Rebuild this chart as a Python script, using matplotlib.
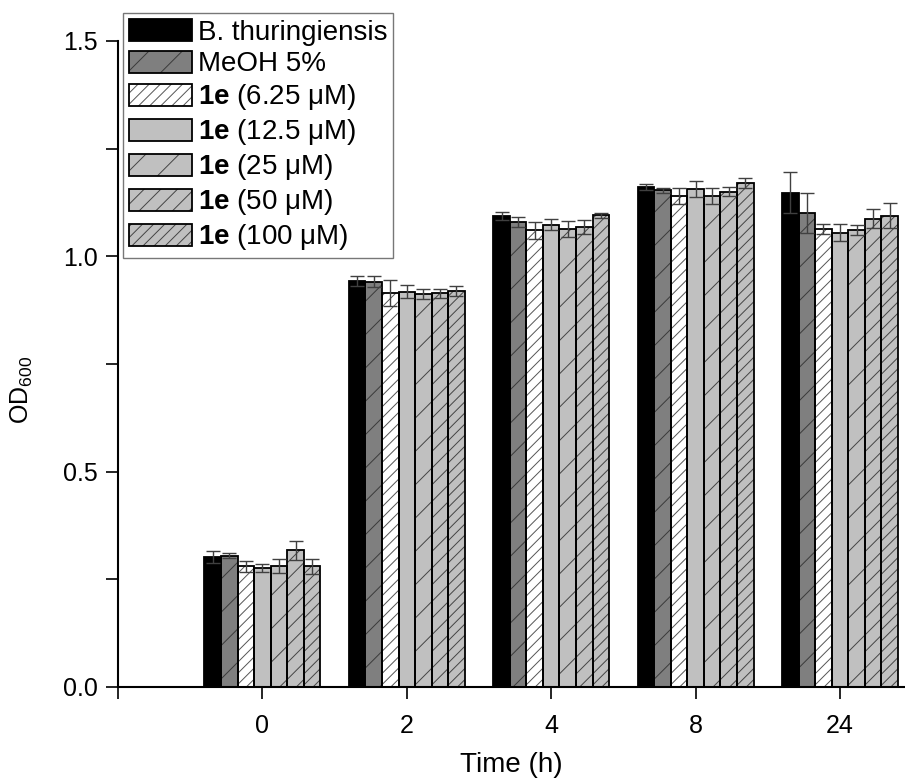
import numpy as np
import matplotlib
matplotlib.use('Agg')
import matplotlib.pyplot as plt
from matplotlib.patches import Patch
from matplotlib.legend_handler import HandlerTuple
from matplotlib.ticker import MultipleLocator

plt.rcParams['font.family'] = ['Liberation Sans', 'DejaVu Sans']
plt.rcParams['mathtext.fontset'] = 'custom'
plt.rcParams['mathtext.rm'] = 'Liberation Sans'
plt.rcParams['mathtext.bf'] = 'Liberation Sans:bold'
plt.rcParams['hatch.linewidth'] = 0.7

times = ['0', '2', '4', '8', '24']
labels = ['B. thuringiensis', 'MeOH 5%',
          r'$\mathbf{1e}$ (6.25 μM)', r'$\mathbf{1e}$ (12.5 μM)',
          r'$\mathbf{1e}$ (25 μM)', r'$\mathbf{1e}$ (50 μM)',
          r'$\mathbf{1e}$ (100 μM)']

bt = [0.301, 0.943, 1.094, 1.161, 1.148]
meoh = [0.305, 0.941, 1.080, 1.153, 1.101]
c6_25 = [0.280, 0.915, 1.060, 1.140, 1.063]
c12_5 = [0.276, 0.918, 1.073, 1.156, 1.055]
c25 = [0.281, 0.912, 1.063, 1.140, 1.061]
c50 = [0.317, 0.914, 1.068, 1.150, 1.087]
c100 = [0.280, 0.919, 1.095, 1.170, 1.094]

bt_err = [0.014, 0.012, 0.009, 0.008, 0.048]
meoh_err = [0.005, 0.013, 0.012, 0.005, 0.047]
c6_25_err = [0.013, 0.031, 0.020, 0.019, 0.012]
c12_5_err = [0.009, 0.015, 0.013, 0.018, 0.019]
c25_err = [0.016, 0.011, 0.018, 0.019, 0.012]
c50_err = [0.022, 0.010, 0.017, 0.011, 0.022]
c100_err = [0.017, 0.011, 0.005, 0.011, 0.029]

series = [bt, meoh, c6_25, c12_5, c25, c50, c100]
errors = [bt_err, meoh_err, c6_25_err, c12_5_err, c25_err, c50_err, c100_err]
faces = ['black', '#7f7f7f', 'white', '#c0c0c0', '#c0c0c0', '#c0c0c0', '#c0c0c0']
hatches = [None, '/', '///', None, '/', '//', '///']
hatch_cols = ['black', '#3a3a3a', '#555555', '#c0c0c0', '#444444', '#444444', '#444444']

fig = plt.figure(figsize=(9.05, 7.82), dpi=100)
ax = fig.add_axes([0.1304, 0.1215, 0.8696, 0.8261])

x = np.arange(len(times))
w = 0.1146
handles = []
for k in range(len(series)):
    pos = x + (k - 3) * w
    ax.bar(pos, series[k], w, color=faces[k], hatch=hatches[k],
           edgecolor=hatch_cols[k], linewidth=0, zorder=2)
    ax.bar(pos, series[k], w, fill=False, edgecolor='black', linewidth=1.3, zorder=3)
    ax.errorbar(pos, series[k], yerr=errors[k], fmt='none', ecolor='#404040',
                elinewidth=1.0, capsize=5, capthick=1.0, zorder=4)
    h1 = Patch(facecolor=faces[k], hatch=hatches[k], edgecolor=hatch_cols[k], linewidth=0)
    h2 = Patch(fill=False, edgecolor='black', linewidth=1.3)
    handles.append((h1, h2))

ax.set_xlim(-1, 4.45)
ax.set_ylim(0, 1.5)
ax.set_xticks([-1] + list(x))
ax.set_xticklabels([''] + times)
ax.yaxis.set_major_locator(MultipleLocator(0.5))
ax.yaxis.set_minor_locator(MultipleLocator(0.25))
ax.yaxis.set_major_formatter(matplotlib.ticker.StrMethodFormatter('{x:.1f}'))
ax.tick_params(axis='both', which='both', direction='out', length=8.5, width=1.2,
               labelsize=18)
ax.tick_params(axis='y', pad=6)
ax.tick_params(axis='x', pad=11)
for s in ['top', 'right']:
    ax.spines[s].set_visible(False)
for s in ['left', 'bottom']:
    ax.spines[s].set_linewidth(1.5)

ax.set_xlabel('Time (h)', fontsize=20, labelpad=10)
ax.set_ylabel('OD$_{600}$', fontsize=18)
ax.yaxis.set_label_coords(-0.106, 0.46)

leg = fig.legend(handles, labels, handler_map={tuple: HandlerTuple(ndivide=1)},
                 loc='upper left', bbox_to_anchor=(0.136, 0.983), borderaxespad=0,
                 fontsize=20, fancybox=False, framealpha=1, edgecolor='#777777',
                 handlelength=2.27, handleheight=0.85, labelspacing=0.18,
                 handletextpad=0.22, borderpad=0.2)
leg.get_frame().set_linewidth(1.0)

fig.savefig('out.png', dpi=100)
